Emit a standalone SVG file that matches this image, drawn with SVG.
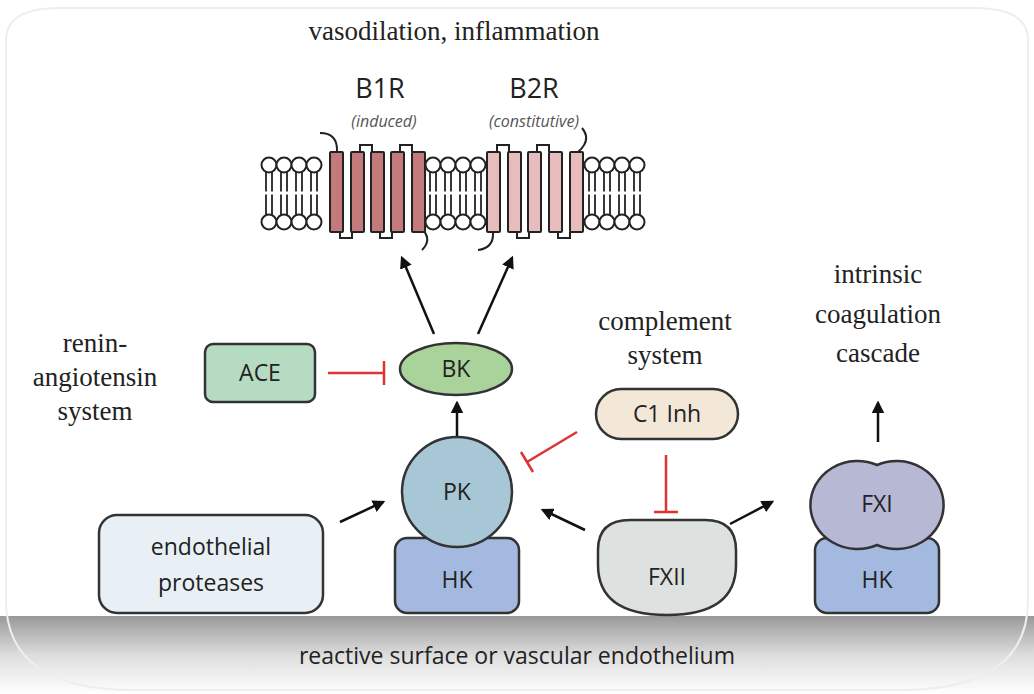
<svg xmlns="http://www.w3.org/2000/svg" width="1034" height="694" viewBox="0 0 1034 694">
<style>
.s{font-family:"Liberation Serif",serif;font-size:27px;fill:#222;text-anchor:middle}
.t{font-family:"Open Sans","DejaVu Sans",sans-serif;font-size:23px;fill:#222;text-anchor:middle}
.r{font-family:"Open Sans","DejaVu Sans",sans-serif;font-size:27px;fill:#222;text-anchor:middle}
.i{font-family:"Open Sans","DejaVu Sans",sans-serif;font-size:16px;font-style:italic;fill:#555;text-anchor:middle}
.n{stroke:#333;stroke-width:2.5}
.h1{fill:#c47a7a;stroke:#222;stroke-width:2}
.h2{fill:#e8bcbc;stroke:#222;stroke-width:2}
.a{stroke:#111;stroke-width:2.5;fill:none;marker-end:url(#ar)}
.b{stroke:#d33;stroke-width:2.5;fill:none}
</style>
<defs>
<marker id="ar" viewBox="0 0 10 10" refX="8" refY="5" markerWidth="5" markerHeight="5" orient="auto"><path d="M0,0L10,5L0,10z" fill="#111"/></marker>
<linearGradient id="g" x1="0" y1="0" x2="0" y2="1"><stop offset="0" stop-color="#999"/><stop offset="0.5" stop-color="#ddd"/><stop offset="1" stop-color="#fff"/></linearGradient>
<g id="lp">
<line x1="-3" y1="5" x2="-3" y2="52" stroke="#222" stroke-width="1.8"/><line x1="3" y1="5" x2="3" y2="52" stroke="#222" stroke-width="1.8"/>
<line x1="-5" y1="28" x2="5" y2="28" stroke="#fff" stroke-width="3"/>
<circle cx="0" cy="0" r="7.5" fill="#fff" stroke="#222" stroke-width="2"/>
<circle cx="0" cy="57" r="7.5" fill="#fff" stroke="#222" stroke-width="2"/>
</g>
</defs>
<rect width="1034" height="694" fill="#fff"/>
<path d="M0,616 H1034 V694 H0z" fill="url(#g)"/>
<path d="M6,40 Q6,8 60,8 H974 Q1028,8 1028,40 V600 Q1028,690 900,690 H134 Q6,690 6,600z" fill="none" stroke="#eee" stroke-width="2"/>
<text class="t" x="517" y="664">reactive surface or vascular endothelium</text>
<g id="membrane">
<use href="#lp" x="269" y="165"/><use href="#lp" x="284" y="165"/><use href="#lp" x="299" y="165"/><use href="#lp" x="314" y="165"/>
<use href="#lp" x="433" y="165"/><use href="#lp" x="448" y="165"/><use href="#lp" x="463" y="165"/><use href="#lp" x="478" y="165"/>
<use href="#lp" x="592" y="165"/><use href="#lp" x="607" y="165"/><use href="#lp" x="622" y="165"/><use href="#lp" x="637" y="165"/>
</g>
<g id="B1R">
<path d="M320,133 Q338,133 337,152 M360,152 V145 H372 V152 M400,152 V145 H412 V152 M340,232 V238 H352 V232 M380,232 V238 H392 V232 M423,230 Q432,240 422,250" fill="none" stroke="#222" stroke-width="2"/>
<rect class="h1" x="330" y="152" width="13" height="80" rx="1"/><rect class="h1" x="351" y="152" width="13" height="80" rx="1"/><rect class="h1" x="371" y="152" width="13" height="80" rx="1"/><rect class="h1" x="391" y="152" width="13" height="80" rx="1"/><rect class="h1" x="412" y="152" width="13" height="80" rx="1"/>
<text class="r" x="380" y="98">B1R</text>
<text class="i" x="384" y="127">(induced)</text>
</g>
<g id="B2R">
<path d="M497,152 V145 H509 V152 M537,152 V145 H549 V152 M517,232 V238 H529 V232 M558,232 V238 H570 V232 M493,232 Q494,248 478,250 M578,152 Q592,140 582,128" fill="none" stroke="#222" stroke-width="2"/>
<rect class="h2" x="487" y="152" width="13" height="80" rx="1"/><rect class="h2" x="508" y="152" width="13" height="80" rx="1"/><rect class="h2" x="528" y="152" width="13" height="80" rx="1"/><rect class="h2" x="549" y="152" width="13" height="80" rx="1"/><rect class="h2" x="570" y="152" width="13" height="80" rx="1"/>
<text class="r" x="534" y="98">B2R</text>
<text class="i" x="534" y="127">(constitutive)</text>
</g>
<text class="s" x="454" y="40">vasodilation, inflammation</text>
<g id="ACE"><rect class="n" x="205" y="344" width="110" height="58" rx="8" fill="#b5dcc3"/><text class="t" x="260" y="381">ACE</text></g>
<text class="s" x="95" y="352">renin-</text><text class="s" x="95" y="386">angiotensin</text><text class="s" x="95" y="420">system</text>
<g id="BK"><ellipse class="n" cx="456" cy="369" rx="56" ry="26" fill="#a9d39a"/><text class="t" x="456" y="377">BK</text></g>
<text class="s" x="665" y="330">complement</text><text class="s" x="665" y="364">system</text>
<g id="C1"><rect class="n" x="596" y="389" width="142" height="50" rx="25" fill="#f3e7d7"/><text class="t" x="667" y="422">C1 Inh</text></g>
<text class="s" x="878" y="283">intrinsic</text><text class="s" x="878" y="323">coagulation</text><text class="s" x="878" y="362">cascade</text>
<g id="endo"><rect class="n" x="99" y="515" width="224" height="98" rx="18" fill="#e8f0f5"/><text class="t" x="211" y="555">endothelial</text><text class="t" x="211" y="591">proteases</text></g>
<g id="HK1"><rect class="n" x="395" y="538" width="124" height="75" rx="12" fill="#a4b9e0"/><text class="t" x="457" y="588">HK</text></g>
<g id="PK"><circle class="n" cx="457" cy="492" r="55" fill="#a8c7d6"/><text class="t" x="457" y="500">PK</text></g>
<g id="FXII"><path class="n" d="M598,550 Q598,520 630,520 H705 Q736,520 736,550 V565 Q736,615 667,615 Q598,615 598,565z" fill="#dde2e0"/><text class="t" x="667" y="585">FXII</text></g>
<g id="HK2"><rect class="n" x="815" y="538" width="124" height="75" rx="12" fill="#a4b9e0"/><text class="t" x="877" y="588">HK</text></g>
<g id="FXI"><path class="n" d="M877,465 A47,44 0 1 1 877,545 A47,44 0 1 1 877,465z" fill="#b7b9d4"/><text class="t" x="877" y="512">FXI</text></g>
<g id="connectors">
<path class="a" d="M434,334 L402,258"/>
<path class="a" d="M478,334 L512,258"/>
<path class="a" d="M457,436 L457,403"/>
<path class="a" d="M340,522 L383,502"/>
<path class="a" d="M585,530 L543,510"/>
<path class="a" d="M730,524 L772,502"/>
<path class="a" d="M878,442 L878,403"/>
<path class="b" d="M328,373 H384 M384,361 V385"/>
<path class="b" d="M577,432 L527,462 M521,452 L533,472"/>
<path class="b" d="M666,455 V512 M654,512 H678"/>
</g>
</svg>
